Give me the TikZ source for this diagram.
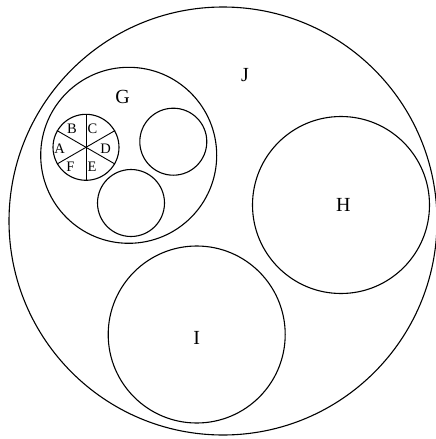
\documentclass[tikz,border=0pt]{standalone}
\usepackage{fontspec}
\setmainfont{Liberation Serif}
\begin{document}
\begin{tikzpicture}[x=1pt,y=-1pt,
  ring/.style={draw=black,line width=1.1pt,circle,inner sep=0pt},
  spoke/.style={draw=black,line width=0.9pt},
  big/.style={font=\fontsize{20}{20}\selectfont},
  small/.style={font=\fontsize{14.5}{14.5}\selectfont,inner sep=0pt}]
\useasboundingbox (0,0) rectangle (436,439);
\clip (0,0) rectangle (436,439);
\node[ring,minimum size=428pt] (J) at (223,221) {};
\node[ring,minimum size=176pt] (G) at (128.7,155.3) {};
\node[ring,minimum size=66pt] (S) at (86,147.3) {};
\node[ring,minimum size=67pt] (G2) at (173.3,141.7) {};
\node[ring,minimum size=67pt] (G3) at (131,203) {};
\node[ring,minimum size=177pt] (H) at (341,205) {};
\node[ring,minimum size=177pt] (I) at (196.7,334.5) {};
\draw[spoke] (S.90) -- (S.270);
\draw[spoke] (S.150) -- (S.330);
\draw[spoke] (S.210) -- (S.30);
\node[big] (lJ) at (245,75) {J};
\node[big] (lG) at (122.7,96.7) {G};
\node[big] (lH) at (343.3,205) {H};
\node[big] (lI) at (196.7,338) {I};
\node[small] (lB) at (72,128.5) {B};
\node[small] (lC) at (92.5,128.5) {C};
\node[small] (lA) at (59.5,148.5) {A};
\node[small] (lD) at (105.5,149) {D};
\node[small] (lF) at (70.5,166.5) {F};
\node[small] (lE) at (92,166.5) {E};
\end{tikzpicture}
\end{document}
